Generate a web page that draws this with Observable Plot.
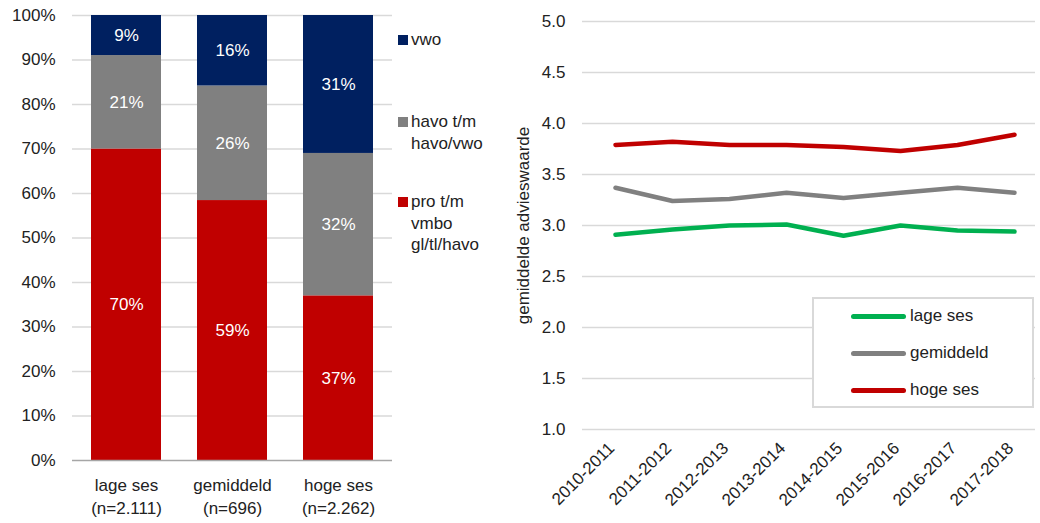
<!DOCTYPE html>
<html>
<head>
<meta charset="utf-8">
<script src="https://cdn.jsdelivr.net/npm/d3@7"></script>
<script src="https://cdn.jsdelivr.net/npm/@observablehq/plot@0.6"></script>
<style>
  html, body { margin: 0; padding: 0; background: #fff; overflow: hidden; }
  #wrap { position: relative; width: 1040px; height: 523px; font-family: "Liberation Sans", Arial, sans-serif; color: #222; font-size: 17px; }
  #left, #right { position: absolute; top: 0; }
  #left { left: 0; }
  #right { left: 500px; }
  .lg { position: absolute; line-height: 21.5px; font-size: 17px; }
  .sq { position: absolute; width: 10px; height: 10px; }
  #legR { position: absolute; left: 812px; top: 297px; width: 222px; height: 111px; box-sizing: border-box; border: 2px solid #D9D9D9; background: #fff; }
  .sw { position: absolute; left: 37px; width: 55px; height: 5px; border-radius: 3px; }
  .lt { position: absolute; left: 96px; font-size: 17px; line-height: 20px; }
</style>
</head>
<body>
<div id="wrap">
  <div id="left"></div>
  <div id="right"></div>
  <div id="legL"></div>
  <div id="legR"></div>
</div>
<script>
// ---- Left chart data ----
const groups = ["lage ses", "gemiddeld", "hoge ses"];
const groupN = ["(n=2.111)", "(n=696)", "(n=2.262)"];
const levels = ["pro t/m vmbo gl/tl/havo", "havo t/m havo/vwo", "vwo"];
const levelLegendLines = [["pro t/m", "vmbo", "gl/tl/havo"], ["havo t/m", "havo/vwo"], ["vwo"]];
const levelColors = ["#C00000", "#808080", "#002060"];
const proValues = [70, 59, 37];
const havoValues = [21, 26, 32];
const vwoValues = [9, 16, 31];
const pctTicks = [0, 10, 20, 30, 40, 50, 60, 70, 80, 90, 100];

// ---- Right chart data ----
const seasons = ["2010-2011", "2011-2012", "2012-2013", "2013-2014", "2014-2015", "2015-2016", "2016-2017", "2017-2018"];
const seriesNames = ["lage ses", "gemiddeld", "hoge ses"];
const seriesColors = ["#00B050", "#808080", "#C00000"];
const lageSes = [2.91, 2.96, 3.00, 3.01, 2.90, 3.00, 2.95, 2.94];
const gemiddeld = [3.37, 3.24, 3.26, 3.32, 3.27, 3.32, 3.37, 3.32];
const hogeSes = [3.79, 3.82, 3.79, 3.79, 3.77, 3.73, 3.79, 3.89];
const valueTicks = [1.0, 1.5, 2.0, 2.5, 3.0, 3.5, 4.0, 4.5, 5.0];

const font = {fontFamily: "Liberation Sans, Arial, sans-serif", fontSize: "17px", color: "#222", background: "transparent", overflow: "visible"};

// Build rows for stacked bars
const levelValues = [proValues, havoValues, vwoValues];
const rows = [];
groups.forEach((g, gi) => {
  levels.forEach((l, li) => rows.push({group: g, level: l, value: levelValues[li][gi]}));
});

const left = Plot.plot({
  width: 500, height: 523,
  marginLeft: 72, marginRight: 108, marginTop: 15, marginBottom: 63,
  style: font,
  x: {domain: groups, paddingInner: 0.336, paddingOuter: 0.168, axis: null},
  y: {domain: [0, 1], axis: null},
  color: {domain: levels, range: levelColors},
  marks: [
    Plot.ruleY(pctTicks.filter(d => d > 0), {y: d => d / 100, stroke: "#D9D9D9", strokeWidth: 1.5}),
    Plot.barY(rows, Plot.stackY({offset: "normalize", order: levels, x: "group", y: "value", fill: "level", z: "level"})),
    Plot.text(rows, Plot.stackY({offset: "normalize", order: levels, x: "group", y: "value", z: "level", text: d => d.value + "%", fill: "white", fontSize: 17})),
    Plot.ruleY([0], {stroke: "#A6A6A6", strokeWidth: 1.5}),
    Plot.axisY(pctTicks.map(d => d / 100), {tickSize: 0, tickPadding: 17, label: null, tickFormat: d => Math.round(d * 100) + "%", fill: "#222"}),
    Plot.axisX({tickSize: 0, tickPadding: 14, label: null, lineHeight: 1.35, fill: "#222", tickFormat: d => d + "\n" + groupN[groups.indexOf(d)]})
  ]
});
document.getElementById("left").appendChild(left);

// Lines data
const seriesValues = [lageSes, gemiddeld, hogeSes];
const lineRows = [];
seriesNames.forEach((s, si) => seasons.forEach((t, ti) => lineRows.push({series: s, season: t, value: seriesValues[si][ti]})));

const right = Plot.plot({
  width: 540, height: 523,
  marginLeft: 82, marginRight: 5, marginTop: 21, marginBottom: 94,
  style: font,
  x: {type: "point", domain: seasons, range: [112, 517], padding: 0, axis: null},
  y: {domain: [1, 5], axis: null},
  color: {domain: seriesNames, range: seriesColors},
  marks: [
    Plot.ruleY(valueTicks, {stroke: "#D9D9D9", strokeWidth: 1.5}),
    Plot.line(lineRows, {x: "season", y: "value", stroke: "series", strokeWidth: 4.5, strokeLinecap: "round", strokeLinejoin: "round"}),
    Plot.axisY(valueTicks, {tickSize: 0, tickPadding: 17, tickFormat: d => d.toFixed(1), fill: "#222",
      label: "gemiddelde advieswaarde", labelAnchor: "center", labelArrow: "none", labelOffset: 66}),
    Plot.axisX({tickSize: 0, tickPadding: 16, dx: -4, tickRotate: -45, label: null, fill: "#222"})
  ]
});
document.getElementById("right").appendChild(right);

// Left legend (HTML)
const legL = document.getElementById("legL");
// first-line centre y for each level (in levels order: pro, havo, vwo)
const legTops = [202, 122, 40];
[2, 1, 0].forEach(li => {
  const sq = document.createElement("div");
  sq.className = "sq";
  sq.style.left = "398px";
  sq.style.top = (legTops[li] - 5) + "px";
  sq.style.background = levelColors[li];
  legL.appendChild(sq);
  const t = document.createElement("div");
  t.className = "lg";
  t.style.left = "411px";
  t.style.top = (legTops[li] - 10.75) + "px";
  t.innerHTML = levelLegendLines[li].join("<br>");
  legL.appendChild(t);
});

// Right legend (HTML)
const legR = document.getElementById("legR");
const rowY = [316, 353, 390];
seriesNames.forEach((s, i) => {
  const sw = document.createElement("div");
  sw.className = "sw";
  sw.style.top = (rowY[i] - 297 - 2 - 2.5) + "px";
  sw.style.background = seriesColors[i];
  legR.appendChild(sw);
  const t = document.createElement("div");
  t.className = "lt";
  t.style.top = (rowY[i] - 297 - 2 - 10) + "px";
  t.textContent = s;
  legR.appendChild(t);
});
</script>
</body>
</html>
